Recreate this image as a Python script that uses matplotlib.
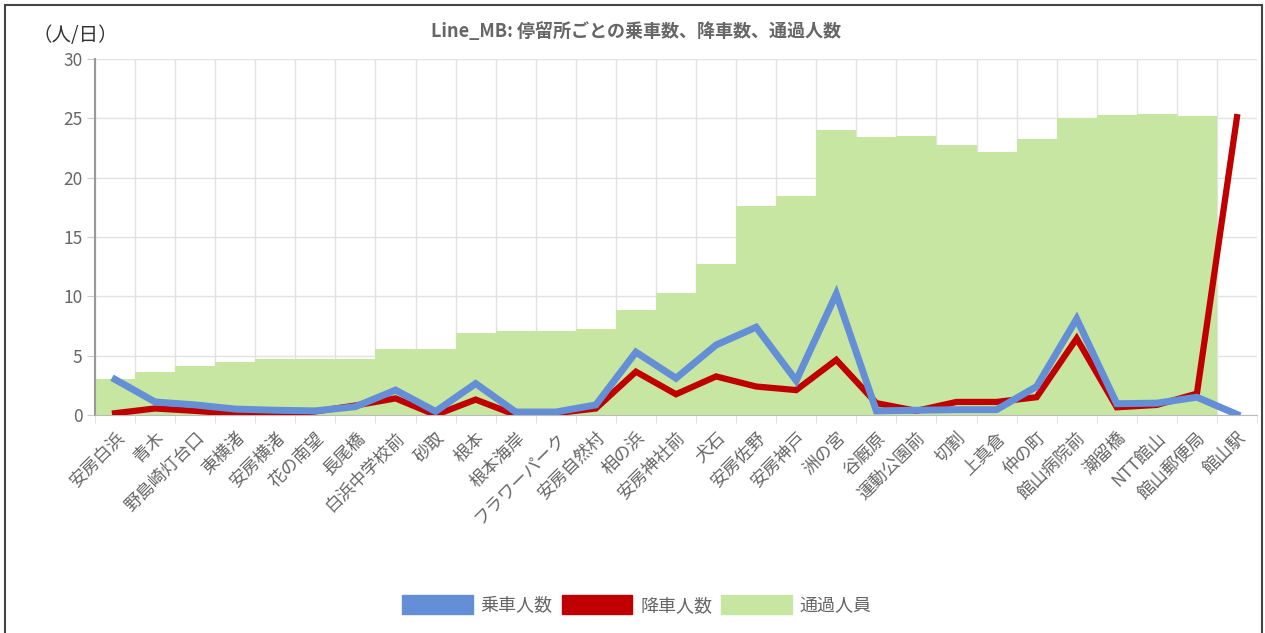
import numpy as np
import matplotlib.pyplot as plt
from matplotlib.patches import Patch, Rectangle

plt.rcParams['font.family'] = ['Noto Sans CJK JP', 'DejaVu Sans']

# データ
stops = ['安房白浜', '青木', '野島崎灯台口', '東横渚', '安房横渚', '花の南望', '長尾橋',
         '白浜中学校前', '砂取', '根本', '根本海岸', 'フラワーパーク', '安房自然村', '相の浜',
         '安房神社前', '犬石', '安房佐野', '安房神戸', '洲の宮', '谷厩原', '運動公園前',
         '切割', '上真倉', '仲の町', '館山病院前', '潮留橋', 'NTT館山', '館山郵便局', '館山駅']
boarding = [3.0, 1.1, 0.85, 0.5, 0.4, 0.35, 0.7, 2.1, 0.3, 2.65, 0.25, 0.25, 0.85, 5.3,
            3.1, 5.9, 7.4, 2.9, 10.2, 0.35, 0.4, 0.45, 0.45, 2.4, 8.1, 0.95, 1.0, 1.5, 0.05]
alighting = [0.15, 0.55, 0.35, 0.1, 0.05, 0.3, 0.8, 1.4, 0.0, 1.3, 0.0, 0.15, 0.55, 3.65,
             1.75, 3.25, 2.4, 2.1, 4.65, 1.0, 0.35, 1.1, 1.1, 1.5, 6.45, 0.65, 0.85, 1.8, 25.1]
passing = [3.03, 3.65, 4.13, 4.49, 4.72, 4.69, 4.69, 5.53, 5.53, 6.88, 7.1, 7.08, 7.22, 8.85,
           10.25, 12.72, 17.64, 18.48, 24.02, 23.42, 23.48, 22.75, 22.13, 23.26, 25.03,
           25.28, 25.37, 25.17, 0.0]

blue = '#648fd6'
red = '#c00000'
green = '#c6e6a1'
gray = '#666666'

fig = plt.figure(figsize=(12.65, 6.33), dpi=100)
ax = fig.add_axes([95 / 1265, 218 / 633, 1162 / 1265, 356 / 633])

x = np.arange(len(stops))
ax.bar(x, passing, width=1.0, color=green, zorder=1)
ax.plot(x, alighting, color=red, lw=4.5, zorder=3, solid_joinstyle='miter')
ax.plot(x, boarding, color=blue, lw=5, zorder=4, solid_joinstyle='miter')

ax.set_xlim(-0.5, len(stops) - 0.5)
ax.set_ylim(0, 30)
ax.set_yticks(range(0, 31, 5))
ax.set_xticks(x)
ax.set_xticks(np.arange(-0.5, len(stops), 1.0), minor=True)
ax.set_xticklabels(stops, rotation=45, ha='right', rotation_mode='anchor',
                   fontsize=12.5, color=gray)
ax.tick_params(axis='x', which='major', length=0, pad=10)
ax.tick_params(axis='x', which='minor', length=6, color='#dddddd')
ax.tick_params(axis='y', length=6, color='#cccccc', labelsize=12.5, labelcolor=gray, pad=3)

ax.grid(True, axis='y', color='#e2e2e2', lw=1, zorder=0)
ax.grid(True, axis='x', which='minor', color='#e2e2e2', lw=1, zorder=0)
ax.set_axisbelow(True)
for s in ['top', 'right']:
    ax.spines[s].set_visible(False)
ax.spines['left'].set_color('#999999')
ax.spines['left'].set_linewidth(1.5)
ax.spines['bottom'].set_color('#bbbbbb')

fig.text(636 / 1265, 1 - 32 / 633, 'Line_MB: 停留所ごとの乗車数、降車数、通過人数',
         ha='center', va='center', fontsize=13, fontweight='bold', color=gray)
fig.text(33 / 1265, 1 - 35 / 633, '（人/日）', ha='left', va='center', fontsize=14, color='#333333')

handles = [Patch(color=blue), Patch(color=red), Patch(color=green)]
fig.legend(handles, ['乗車人数', '降車人数', '通過人員'], loc='center',
           bbox_to_anchor=(637 / 1265, 28 / 633), ncol=3, frameon=False,
           handlelength=3.9, handleheight=1.2, handletextpad=0.45, columnspacing=0.5,
           fontsize=13, labelcolor=gray)

fig.patches.append(Rectangle((5 / 1265, -0.01), 1257 / 1265, 1 - 5 / 633 + 0.01,
                             transform=fig.transFigure, fill=False, ec='#444444', lw=1.5))

fig.savefig('out.png', dpi=100)
